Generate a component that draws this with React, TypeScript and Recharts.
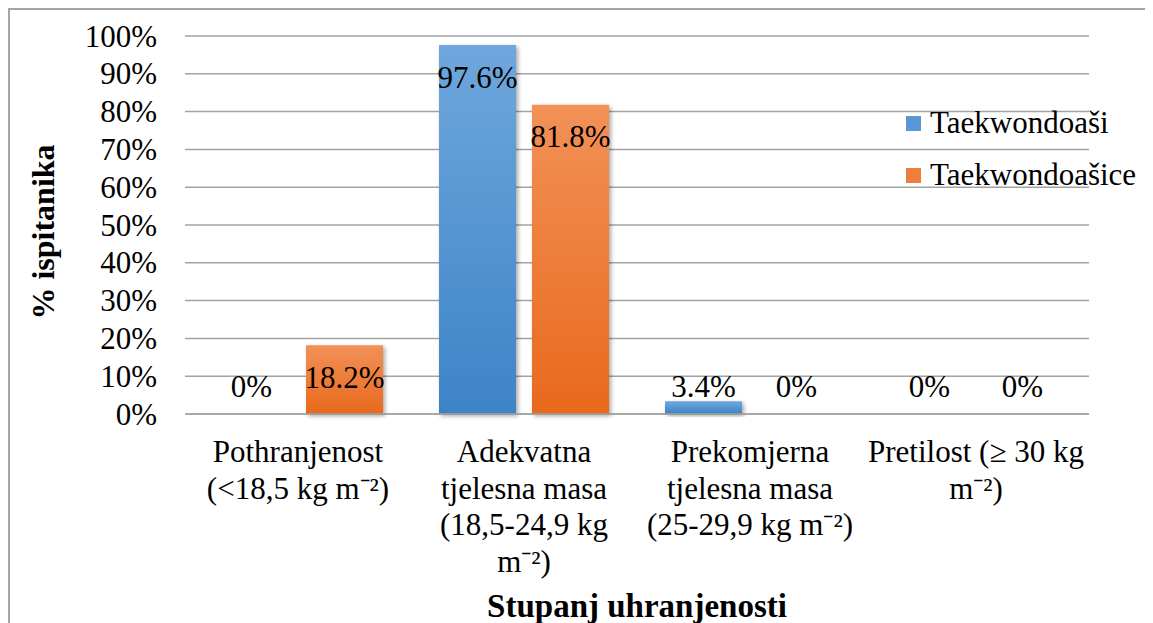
import { BarChart, Bar, XAxis, YAxis, CartesianGrid, Legend, LabelList } from 'recharts'

const categories = [
  'Pothranjenost\n(<18,5 kg m⁻²)',
  'Adekvatna\ntjelesna masa\n(18,5-24,9 kg\nm⁻²)',
  'Prekomjerna\ntjelesna masa\n(25-29,9 kg m⁻²)',
  'Pretilost (≥ 30 kg\nm⁻²)',
]
const taekwondoasi = [0, 97.6, 3.4, 0]
const taekwondoasice = [18.2, 81.8, 0, 0]
const yTicks = [0, 10, 20, 30, 40, 50, 60, 70, 80, 90, 100]

const seriesNames = ['Taekwondoaši', 'Taekwondoašice']
const chartData = categories.map((c, i) => ({
  name: c,
  m: taekwondoasi[i],
  z: taekwondoasice[i],
}))

const FONT = "'Liberation Serif', 'Times New Roman', serif"
const FS = 31
const GRID = '#a3a3a3'

function CategoryTick({ x, y, payload }: any) {
  const lines = String(payload.value).split('\n')
  return (
    <text x={x} y={y + 40} textAnchor="middle" style={{ fontFamily: FONT, fontSize: FS }} fill="#000">
      {lines.map((l, i) => (
        <tspan key={i} x={x} dy={i === 0 ? 0 : 36.7}>
          {l}
        </tspan>
      ))}
    </text>
  )
}

function ValueTick({ x, y, payload }: any) {
  return (
    <text x={x} y={y} textAnchor="end" dominantBaseline="central" style={{ fontFamily: FONT, fontSize: FS }} fill="#000">
      {`${payload.value}%`}
    </text>
  )
}

function ValueLabel({ x, y, width, height, value }: any) {
  const base = y + height
  const cy = Math.min(y + 32, base - 28)
  return (
    <text
      x={x + width / 2}
      y={cy}
      textAnchor="middle"
      dominantBaseline="central"
      style={{ fontFamily: FONT, fontSize: FS }}
      fill="#000"
    >
      {`${value}%`}
    </text>
  )
}

function LegendBox({ payload }: any) {
  return (
    <div style={{ fontFamily: FONT, fontSize: FS, color: '#000' }}>
      {(payload || []).map((p: any, i: number) => (
        <div key={i} style={{ display: 'flex', alignItems: 'center', height: 52 }}>
          <span
            style={{
              display: 'inline-block',
              width: 15,
              height: 15,
              marginRight: 9,
              background: i === 0 ? '#5a97d6' : '#ef7d3c',
            }}
          />
          <span>{p.value}</span>
        </div>
      ))}
    </div>
  )
}

export default function App() {
  return (
    <div
      style={{
        width: 1145,
        height: 615,
        borderTop: '2px solid #a6a6a6',
        borderLeft: '2px solid #a6a6a6',
        boxSizing: 'border-box',
        background: '#fff',
      }}
    >
      <BarChart
        width={1143}
        height={613}
        data={chartData}
        margin={{ top: 26, right: 64, left: 0, bottom: 0 }}
        barGap={16}
        barCategoryGap={28}
      >
        <defs>
          <linearGradient id="gBlue" x1="0" y1="0" x2="0" y2="1">
            <stop offset="0%" stopColor="#6fa7dd" />
            <stop offset="100%" stopColor="#3d84c7" />
          </linearGradient>
          <linearGradient id="gOrange" x1="0" y1="0" x2="0" y2="1">
            <stop offset="0%" stopColor="#f29158" />
            <stop offset="100%" stopColor="#e8691c" />
          </linearGradient>
          <filter id="shadow" x="-10%" y="-10%" width="130%" height="130%">
            <feDropShadow dx="2" dy="2" stdDeviation="2" floodColor="#000" floodOpacity="0.35" />
          </filter>
        </defs>
        <CartesianGrid vertical={false} stroke={GRID} strokeWidth={1.5} />
        <XAxis
          dataKey="name"
          interval={0}
          height={209}
          tickLine={false}
          axisLine={{ stroke: GRID, strokeWidth: 1.5 }}
          tick={<CategoryTick />}
          label={{
            content: () => (
              <text x={627} y={607} textAnchor="middle" style={{ fontFamily: FONT, fontSize: 33, fontWeight: 'bold' }} fill="#000">
                Stupanj uhranjenosti
              </text>
            ),
          }}
        />
        <YAxis
          width={175}
          domain={[0, 100]}
          ticks={yTicks}
          interval={0}
          tickLine={false}
          axisLine={false}
          tickSize={0}
          tickMargin={28}
          tick={<ValueTick />}
          label={{
            content: () => (
              <text
                x={33}
                y={222}
                transform="rotate(-90 33 222)"
                textAnchor="middle"
                dominantBaseline="central"
                style={{ fontFamily: FONT, fontSize: 32, fontWeight: 'bold' }}
                fill="#000"
              >
                % ispitanika
              </text>
            ),
          }}
        />
        <Legend
          layout="vertical"
          align="center"
          verticalAlign="middle"
          content={<LegendBox />}
          wrapperStyle={{ position: 'absolute', left: 896, top: 87, width: 245 }}
        />
        <Bar
          dataKey="m"
          name={seriesNames[0]}
          fill="url(#gBlue)"
          filter="url(#shadow)"
          minPointSize={0.01}
          isAnimationActive={false}
        >
          <LabelList dataKey="m" content={<ValueLabel />} />
        </Bar>
        <Bar
          dataKey="z"
          name={seriesNames[1]}
          fill="url(#gOrange)"
          filter="url(#shadow)"
          minPointSize={0.01}
          isAnimationActive={false}
        >
          <LabelList dataKey="z" content={<ValueLabel />} />
        </Bar>
      </BarChart>
    </div>
  )
}
